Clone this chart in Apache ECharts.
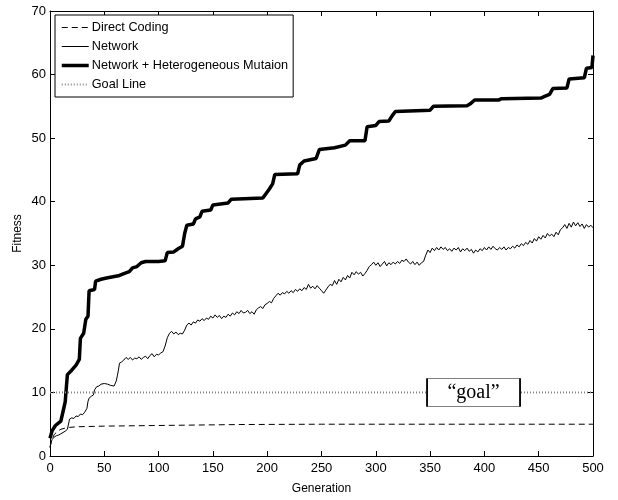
<!DOCTYPE html>
<html>
<head>
<meta charset="utf-8">
<script src="https://cdn.jsdelivr.net/npm/echarts@6/dist/echarts.min.js"></script>
<style>
html, body { margin: 0; padding: 0; background: #fff; }
#main { width: 618px; height: 500px; }
</style>
</head>
<body>
<div id="main"></div>
<script>
// 数据 (generation, fitness)
var direct_coding = [
    [0, 1.4], [2, 2.7], [4, 3.4], [7, 3.9], [10, 4.2], [14, 4.4], [18, 4.5], [25, 4.6],
    [50, 4.7], [100, 4.8], [175, 4.95], [250, 5.0], [350, 5.0], [500, 5.0]
];

var network = [
    [0, 1.3], [1, 2.2], [2, 2.6], [4, 3.0], [6, 3.2], [8, 3.3], [10, 3.5], [12, 3.7], [14, 3.9], [16, 4.2],
    [17, 4.5], [18, 5.8], [20, 6.0], [22, 5.9], [24, 6.3], [26, 6.2], [28, 6.6], [30, 6.5], [32, 6.9], [34, 7.5],
    [35, 8.6], [36, 9.1], [38, 9.4], [40, 9.6], [41, 10.4], [43, 10.9], [45, 11.0], [47, 11.3], [50, 11.4], [53, 11.3],
    [56, 11.1], [59, 11.0], [61, 11.8], [62, 12.6], [63, 13.5], [64, 14.6], [66, 14.8], [68, 15.1], [70, 15.5], [72, 15.2],
    [74, 15.5], [76, 15.1], [78, 15.4], [80, 15.3], [82, 15.6], [84, 15.2], [86, 15.5], [88, 15.7], [90, 15.3], [92, 15.8],
    [94, 16.1], [96, 15.6], [98, 16.0], [100, 15.9], [102, 16.2], [104, 16.4], [106, 17.3], [108, 18.6], [110, 19.3], [112, 19.6],
    [114, 19.2], [116, 19.5], [118, 19.1], [120, 19.3], [122, 19.2], [124, 19.8], [126, 20.6], [128, 20.9], [130, 20.6], [132, 21.1],
    [134, 20.9], [136, 21.4], [138, 21.2], [140, 21.6], [142, 21.3], [144, 21.7], [146, 21.5], [148, 22.0], [150, 21.7], [152, 22.2],
    [154, 21.8], [156, 22.1], [158, 21.6], [160, 22.0], [162, 21.8], [164, 22.3], [166, 22.0], [168, 22.5], [170, 22.2], [172, 22.7],
    [174, 22.4], [176, 22.9], [178, 22.5], [180, 22.6], [182, 22.9], [184, 22.4], [186, 22.7], [188, 22.3], [190, 23.0], [192, 23.3],
    [194, 23.5], [196, 23.2], [198, 23.8], [200, 24.0], [202, 24.3], [204, 24.1], [206, 24.8], [208, 25.2], [210, 25.6], [212, 25.3],
    [214, 25.7], [216, 25.5], [218, 25.9], [220, 25.6], [222, 26.0], [224, 25.7], [226, 26.2], [228, 25.9], [230, 26.3], [232, 26.0],
    [234, 26.5], [236, 26.2], [238, 27.0], [240, 26.4], [242, 26.7], [244, 26.3], [246, 26.8], [248, 26.4], [250, 26.0], [252, 25.6],
    [254, 26.1], [256, 26.6], [258, 27.0], [260, 26.8], [262, 27.6], [264, 27.0], [266, 27.8], [268, 27.4], [270, 28.1], [272, 27.7],
    [274, 28.4], [276, 28.0], [278, 28.9], [280, 28.5], [282, 29.0], [284, 28.6], [286, 28.9], [288, 28.3], [290, 28.7], [292, 29.2],
    [294, 29.8], [296, 30.1], [298, 30.5], [300, 30.0], [302, 30.4], [304, 29.8], [306, 30.2], [308, 30.6], [310, 29.9], [312, 30.4],
    [314, 30.1], [316, 30.5], [318, 30.2], [320, 30.6], [322, 30.3], [324, 30.8], [326, 30.6], [328, 31.0], [330, 30.5], [332, 30.2],
    [334, 30.6], [336, 30.1], [338, 30.5], [340, 30.0], [342, 30.4], [344, 30.6], [346, 31.6], [348, 32.4], [350, 32.0], [352, 32.7],
    [354, 32.3], [356, 32.8], [358, 32.4], [360, 32.9], [362, 32.5], [364, 32.8], [366, 32.3], [368, 32.6], [370, 32.2], [372, 32.7],
    [374, 32.4], [376, 32.8], [378, 32.1], [380, 32.6], [382, 32.3], [384, 32.7], [386, 32.2], [388, 32.5], [390, 31.9], [392, 32.4],
    [394, 32.1], [396, 32.6], [398, 32.3], [400, 32.8], [402, 32.4], [404, 32.9], [406, 32.5], [408, 33.0], [410, 32.6], [412, 32.4],
    [414, 32.8], [416, 32.5], [418, 32.9], [420, 32.4], [422, 32.8], [424, 32.6], [426, 33.0], [428, 32.7], [430, 33.2], [432, 32.9],
    [434, 33.4], [436, 33.1], [438, 33.6], [440, 33.3], [442, 33.9], [444, 33.5], [446, 34.2], [448, 33.8], [450, 34.5], [452, 34.1],
    [454, 34.7], [456, 34.3], [458, 35.0], [460, 34.6], [462, 34.9], [464, 34.5], [466, 35.2], [468, 34.8], [470, 35.6], [472, 35.9],
    [474, 36.4], [476, 35.8], [478, 36.6], [480, 36.0], [482, 36.8], [484, 36.2], [486, 36.7], [488, 36.1], [490, 36.5], [492, 35.8],
    [494, 36.4], [496, 36.0], [498, 36.3], [500, 35.9]
];

var network_hetero = [
    [0, 2.8], [2, 4.0], [5, 4.8], [10, 5.5], [12, 7.0], [14, 8.5], [16, 12.8], [20, 13.5], [24, 14.3], [27, 15.2],
    [28, 18.5], [31, 19.3], [33, 21.5], [35, 22.0], [36, 26.0], [41, 26.2], [42, 27.5], [47, 27.8], [52, 28.0], [58, 28.2],
    [64, 28.4], [68, 28.7], [73, 29.0], [76, 29.6], [80, 29.8], [84, 30.4], [88, 30.6], [100, 30.6], [106, 30.7], [108, 32.0],
    [114, 32.1], [118, 32.6], [122, 33.0], [124, 35.0], [126, 36.3], [132, 36.5], [134, 37.3], [138, 37.6], [140, 38.5], [148, 38.7],
    [150, 39.5], [164, 39.8], [167, 40.4], [196, 40.6], [199, 41.3], [202, 42.0], [205, 42.8], [207, 44.3], [228, 44.4], [230, 45.8],
    [234, 46.4], [245, 46.8], [248, 48.2], [262, 48.5], [272, 48.9], [276, 49.6], [290, 49.6], [292, 51.8], [300, 52.0], [303, 52.6],
    [312, 52.7], [315, 53.5], [318, 54.2], [350, 54.4], [353, 55.0], [384, 55.1], [387, 55.4], [391, 56.0], [413, 56.0], [416, 56.2],
    [452, 56.3], [456, 56.6], [460, 56.9], [463, 57.8], [476, 57.9], [478, 59.3], [492, 59.5], [494, 61.0], [499, 61.1], [500, 63.0]
];

var goal_line = [[0, 10], [500, 10]];
var goal_label = [390, 10];

var chart = echarts.init(document.getElementById('main'));

var font = 'Liberation Sans';

// 线型
var dash_style = { color: '#000', width: 1, type: [6, 4] };
var thin_style = { color: '#000', width: 1, type: 'solid' };
var thick_style = { color: '#000', width: 3.5, type: 'solid' };
var dot_style = { color: '#888', width: 2, type: [1, 2] };

function mirror_axis(pos, max, interval) {
    return {
        type: 'value',
        position: pos,
        min: 0,
        max: max,
        interval: interval,
        axisLine: { show: true, onZero: false, lineStyle: { color: '#000', width: 1 } },
        axisTick: { show: true, inside: true, length: 5, lineStyle: { color: '#000' } },
        axisLabel: { show: false },
        splitLine: { show: false }
    };
}

function legend_item(name, style) {
    return { name: name, lineStyle: style, itemStyle: { opacity: 0 } };
}

var option = {
    animation: false,
    backgroundColor: '#fff',
    grid: { left: 50, right: 25, top: 11, bottom: 40, containLabel: false },
    legend: {
        orient: 'vertical',
        left: 55,
        top: 15,
        padding: [6, 5, 6, 5],
        itemWidth: 27,
        itemHeight: 14,
        itemGap: 6,
        backgroundColor: '#fff',
        borderColor: '#000',
        borderWidth: 1,
        borderRadius: 0,
        textStyle: { fontFamily: font, fontSize: 12.7, color: '#000', padding: [0, 0, 0, -2] },
        data: [
            legend_item('Direct Coding', dash_style),
            legend_item('Network', thin_style),
            legend_item('Network + Heterogeneous Mutaion', thick_style),
            legend_item('Goal Line', dot_style)
        ]
    },
    xAxis: [
        {
            type: 'value',
            position: 'bottom',
            min: 0,
            max: 500,
            interval: 50,
            name: 'Generation',
            nameLocation: 'middle',
            nameGap: 27,
            nameTextStyle: { fontFamily: font, fontSize: 12, color: '#000' },
            axisLine: { show: true, onZero: false, lineStyle: { color: '#000', width: 1 } },
            axisTick: { show: true, inside: true, length: 5, lineStyle: { color: '#000' } },
            axisLabel: { fontFamily: font, fontSize: 13, color: '#000', margin: 6 },
            splitLine: { show: false }
        },
        mirror_axis('top', 500, 50)
    ],
    yAxis: [
        {
            type: 'value',
            position: 'left',
            min: 0,
            max: 70,
            interval: 10,
            name: 'Fitness',
            nameLocation: 'middle',
            nameGap: 26,
            nameMoveOverlap: false,
            nameTextStyle: { fontFamily: font, fontSize: 12, color: '#000' },
            axisLine: { show: true, onZero: false, lineStyle: { color: '#000', width: 1 } },
            axisTick: { show: true, inside: true, length: 5, lineStyle: { color: '#000' } },
            axisLabel: { fontFamily: font, fontSize: 13, color: '#000', margin: 4 },
            splitLine: { show: false }
        },
        mirror_axis('right', 70, 10)
    ],
    series: [
        {
            name: 'Direct Coding',
            type: 'line',
            symbol: 'none',
            data: direct_coding,
            itemStyle: { color: '#000' },
            lineStyle: dash_style
        },
        {
            name: 'Network',
            type: 'line',
            symbol: 'none',
            data: network,
            itemStyle: { color: '#000' },
            lineStyle: thin_style
        },
        {
            name: 'Network + Heterogeneous Mutaion',
            type: 'line',
            symbol: 'none',
            data: network_hetero,
            itemStyle: { color: '#000' },
            lineStyle: thick_style
        },
        {
            name: 'Goal Line',
            type: 'line',
            symbol: 'none',
            data: goal_line,
            itemStyle: { color: '#888' },
            lineStyle: dot_style,
            markPoint: {
                silent: true,
                data: [{
                    coord: goal_label,
                    symbol: 'rect',
                    symbolSize: [93, 28],
                    itemStyle: { color: '#fff', borderColor: '#000', borderWidth: 1 },
                    label: {
                        show: true,
                        position: 'inside',
                        formatter: '\u201cgoal\u201d',
                        fontFamily: 'Liberation Serif',
                        fontSize: 20,
                        color: '#000'
                    }
                }]
            }
        }
    ]
};

chart.setOption(option);
</script>
</body>
</html>
